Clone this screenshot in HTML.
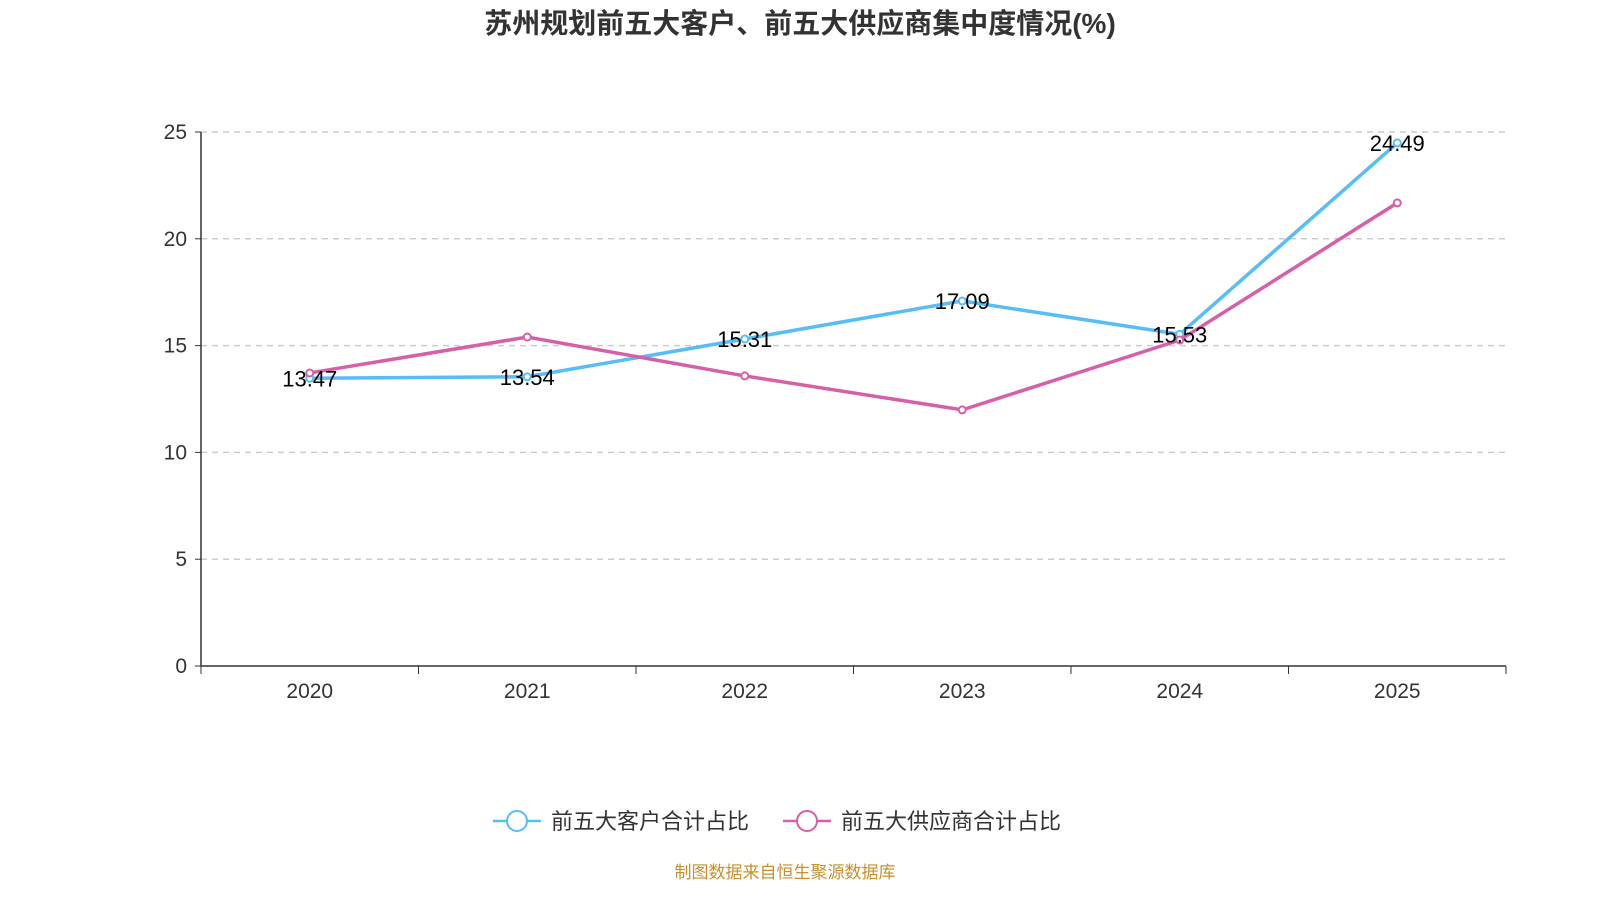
<!DOCTYPE html>
<html><head><meta charset="utf-8"><style>
body{margin:0;background:#fff;width:1600px;height:900px;overflow:hidden;font-family:"Liberation Sans","Noto Sans CJK SC",sans-serif}
</style></head><body>
<svg id="chart" width="1600" height="900" xmlns="http://www.w3.org/2000/svg" font-family="Liberation Sans, Noto Sans CJK SC, sans-serif">
<text x="800" y="33" text-anchor="middle" font-size="28" font-weight="bold" fill="#333">苏州规划前五大客户、前五大供应商集中度情况(%)</text>
<g id="grid"></g><g id="axes"></g><g id="series"></g>
<g>
<g>
<line x1="493" y1="821" x2="541" y2="821" stroke="#56bdf5" stroke-width="2.5"/>
<circle cx="517" cy="821" r="10" fill="#fff" stroke="#56bdf5" stroke-width="2"/>
<text x="551" y="829" font-size="22" fill="#333">前五大客户合计占比</text></g>
<g>
<line x1="783" y1="821" x2="831" y2="821" stroke="#d660a8" stroke-width="2.5"/>
<circle cx="807" cy="821" r="10" fill="#fff" stroke="#d660a8" stroke-width="2"/>
<text x="841" y="829" font-size="22" fill="#333">前五大供应商合计占比</text></g>
</g>
<text x="785" y="878" text-anchor="middle" font-size="17" fill="#c8902a">制图数据来自恒生聚源数据库</text>
</svg>
<script>
const categories=["2020","2021","2022","2023","2024","2025"];
const customerValues=[13.47,13.54,15.31,17.09,15.53,24.49];
const supplierValues=[13.72,15.40,13.58,11.99,15.26,21.68];
const yTicks=[0,5,10,15,20,25];
const NS="http://www.w3.org/2000/svg";
const x0=201,x1=1506,yb=666,yt=132,ymax=25;
const bw=(x1-x0)/categories.length;
const xs=i=>x0+bw*(i+0.5);
const ys=v=>yb-(v/ymax)*(yb-yt);
function mk(p,t,a){const e=document.createElementNS(NS,t);for(const k in a)e.setAttribute(k,a[k]);p.appendChild(e);return e;}
const grid=document.getElementById('grid'),axes=document.getElementById('axes'),ser=document.getElementById('series');
yTicks.forEach(v=>{
 if(v>0){const g=mk(grid,'line',{x1:x0,x2:x1,y1:ys(v),y2:ys(v),stroke:'#ccc','stroke-dasharray':'6,5','stroke-width':1.5});
 
 }
 mk(axes,'line',{x1:x0-6,x2:x0,y1:ys(v),y2:ys(v),stroke:'#333'});
 const t=mk(axes,'text',{x:x0-14,y:ys(v)+7,'text-anchor':'end','font-size':21,fill:'#333'});t.textContent=v;
 
 
});
mk(axes,'line',{x1:x0,x2:x0,y1:yt,y2:yb,stroke:'#333','stroke-width':1.5});
mk(axes,'line',{x1:x0,x2:x1,y1:yb,y2:yb,stroke:'#333','stroke-width':1.5});
for(let i=0;i<=categories.length;i++)mk(axes,'line',{x1:x0+bw*i,x2:x0+bw*i,y1:yb,y2:yb+8,stroke:'#333'});
categories.forEach((c,i)=>{const t=mk(axes,'text',{x:xs(i),y:698,'text-anchor':'middle','font-size':21,fill:'#333'});t.textContent=c;
 
 });
function series(vals,color,name){
 const p=mk(ser,'polyline',{points:vals.map((v,i)=>xs(i)+','+ys(v)).join(' '),fill:'none',stroke:color,'stroke-width':3.5});
 
 
 vals.forEach((v,i)=>{const c=mk(ser,'circle',{cx:xs(i),cy:ys(v),r:3.5,fill:'#fff',stroke:color,'stroke-width':2});
  
  
 });
}
series(customerValues,'#56bdf5','customers');
series(supplierValues,'#d660a8','suppliers');
customerValues.forEach((v,i)=>{const t=mk(ser,'text',{x:xs(i),y:ys(v)+8,'text-anchor':'middle','font-size':22,fill:'#000'});t.textContent=v.toFixed(2);
 
 });
</script>
</body></html>
